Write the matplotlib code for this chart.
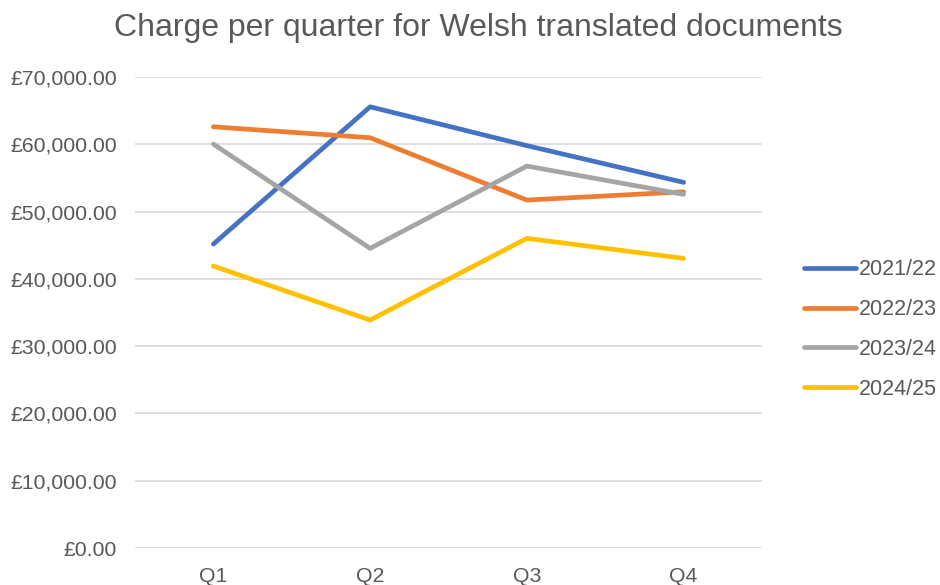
"""
Charge per quarter for Welsh translated documents
"""

import matplotlib
matplotlib.use('Agg')
import matplotlib.pyplot as plt
from matplotlib.ticker import FuncFormatter

#---------------------------------------------------------------------------------------------------
# Data
#---------------------------------------------------------------------------------------------------

quarters = ['Q1', 'Q2', 'Q3', 'Q4']
years = ['2021/22', '2022/23', '2023/24', '2024/25']

charge_2021 = [45170, 65570, 59800, 54340]
charge_2022 = [62600, 60970, 51710, 52940]
charge_2023 = [60030, 44530, 56760, 52560]
charge_2024 = [41900, 33880, 46020, 43050]

colours = ['#4472C4', '#ED7D31', '#A5A5A5', '#FFC000']

#---------------------------------------------------------------------------------------------------
# Plot
#---------------------------------------------------------------------------------------------------

plt.rcParams['font.family'] = ['Liberation Sans', 'DejaVu Sans']
txt_c = '#595959'

fig = plt.figure(figsize=(9.4, 5.85), dpi=100)
ax = fig.add_axes([135/940, 1 - 548/585, (762 - 135)/940, (548 - 77)/585])

x = range(len(quarters))
for vals, lab, c in zip([charge_2021, charge_2022, charge_2023, charge_2024], years, colours):
    ax.plot(x, vals, color=c, lw=3.4, label=lab, solid_capstyle='round', solid_joinstyle='round')

ax.set_xlim(-0.5, len(quarters) - 0.5)
ax.set_ylim(0, 70000)
ax.set_yticks(range(0, 70001, 10000))
ax.yaxis.set_major_formatter(FuncFormatter(lambda v, p: f'£{v:,.2f}'))
ax.set_xticks(list(x))
ax.set_xticklabels(quarters)
ax.tick_params(axis='both', length=0, labelsize=15.3, colors=txt_c)
ax.tick_params(axis='y', pad=13)
ax.tick_params(axis='x', pad=13.5)
ax.grid(True, axis='y', color='#D9D9D9', lw=1.2)
ax.set_axisbelow(True)
for s in ax.spines.values():
    s.set_visible(False)

fig.text(478/940, 1 - 28/585, 'Charge per quarter for Welsh translated documents',
         ha='center', va='center', fontsize=23, color=txt_c)

leg = ax.legend(loc='center left', bbox_to_anchor=(784.5/940, 1 - 329.5/585), bbox_transform=fig.transFigure,
                frameon=False, fontsize=15.5, handlelength=2.4, handletextpad=0.14, labelspacing=0.87)
for t in leg.get_texts():
    t.set_color(txt_c)

plt.savefig('out.png', dpi=100)
